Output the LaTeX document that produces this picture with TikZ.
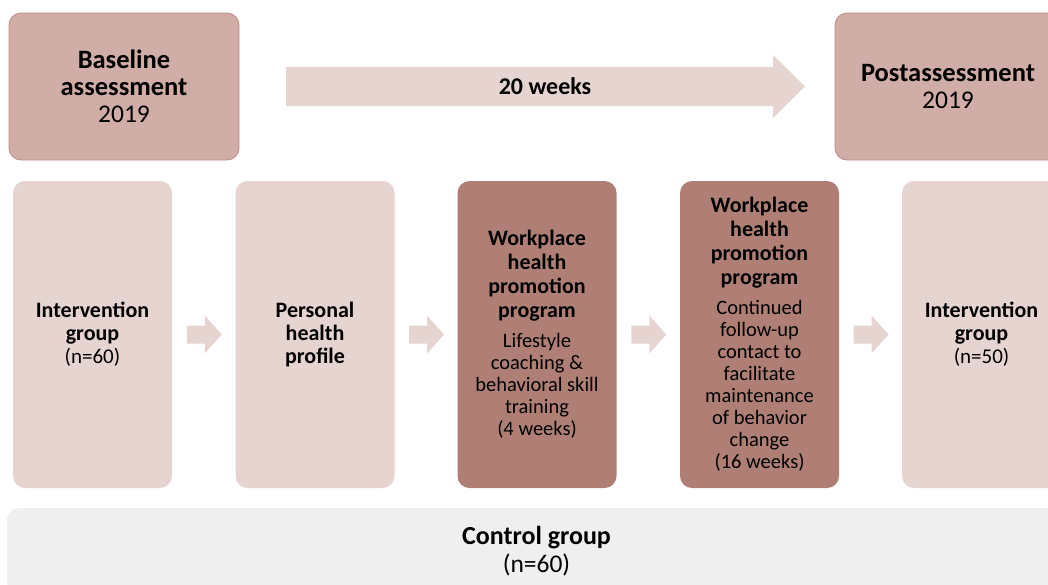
\documentclass[tikz,border=0pt]{standalone}
\usepackage{fontspec}
\setmainfont{Carlito}
\usetikzlibrary{calc}

\definecolor{topfill}{HTML}{D0ADA7}
\definecolor{topline}{HTML}{BD8C85}
\definecolor{lightfill}{HTML}{E5D4D0}
\definecolor{darkfill}{HTML}{AF7F76}
\definecolor{greyfill}{HTML}{EFEFEF}

\newcommand{\hd}[1]{{\fontsize{22}{24}\selectfont\bfseries #1}}
\newcommand{\tophd}[1]{{\fontsize{26.5}{27}\selectfont\bfseries #1}}

\begin{document}
\begin{tikzpicture}[x=1pt,y=-1pt,
        phase/.style={draw=topline, line width=0.8pt, fill=topfill, rounded corners=12pt,
            minimum width=230pt, minimum height=147pt, align=center, inner sep=0pt,
            font=\fontsize{25.5}{27}\selectfont},
        stage/.style={rounded corners=12pt, minimum width=159pt, minimum height=307pt,
            align=center, inner sep=0pt, font=\fontsize{20.5}{22}\selectfont},
        light/.style={stage, fill=lightfill, font=\fontsize{21}{23}\selectfont},
        dark/.style={stage, fill=darkfill},
        blockarrow/.style={fill=lightfill}]
        \useasboundingbox (0,0) rectangle (1048,584);
        \clip (0,0) rectangle (1048,584);
        % assessments and time line
        \node[phase] (base) at (124,86.5) {\tophd{Baseline}\\\tophd{assessment}\\2019};
        \node[phase, minimum width=226pt] (post) at (948,86.5) {\tophd{Postassessment}\\2019};
        \fill[blockarrow] (286,67) -- (773,67) -- (773,55) -- (805,86.5) -- (773,118) -- (773,106) -- (286,106) -- cycle;
        \node[font=\fontsize{24}{26}\selectfont\bfseries] (weeks) at (545,86.5) {20 weeks};
        % intervention group
        \node[light] (g1) at (92.5,334.5) {\hd{Intervention}\\\hd{group}\\(n=60)};
        \node[light] (g2) at (315,334.5) {\hd{Personal}\\\hd{health}\\\hd{profile}};
        \node[dark] (g3) at (537,334.5) {\hd{Workplace}\\[2pt]\hd{health}\\[2pt]\hd{promotion}\\[2pt]\hd{program}\\[8pt]Lifestyle\\coaching \&\\behavioral skill\\training\\(4 weeks)};
        \node[dark] (g4) at (759.5,334.5) {\hd{Workplace}\\[2pt]\hd{health}\\[2pt]\hd{promotion}\\[2pt]\hd{program}\\[8pt]Continued\\follow-up\\contact to\\facilitate\\maintenance\\of behavior\\change\\(16 weeks)};
        \node[light] (g5) at (981.5,334.5) {\hd{Intervention}\\\hd{group}\\(n=50)};
        \foreach \a/\b in {g1/g2, g2/g3, g3/g4, g4/g5}{
            \path (\a.east) -- (\b.west) coordinate[midway] (m);
            \fill[blockarrow] ($(m)+(-17,-9)$) -- ++(18,0) -- ++(0,-10) -- ++(17,19) -- ++(-17,19) -- ++(0,-10) -- ++(-18,0) -- cycle;
        }
        % control group
        \node[fill=greyfill, rounded corners=12pt, minimum width=1059pt, minimum height=86pt,
            align=center, inner sep=0pt, font=\fontsize{25.5}{28}\selectfont] (ctrl) at (536.5,551) {{\fontsize{26}{28}\selectfont\bfseries Control group}\\(n=60)};
\end{tikzpicture}
\end{document}
